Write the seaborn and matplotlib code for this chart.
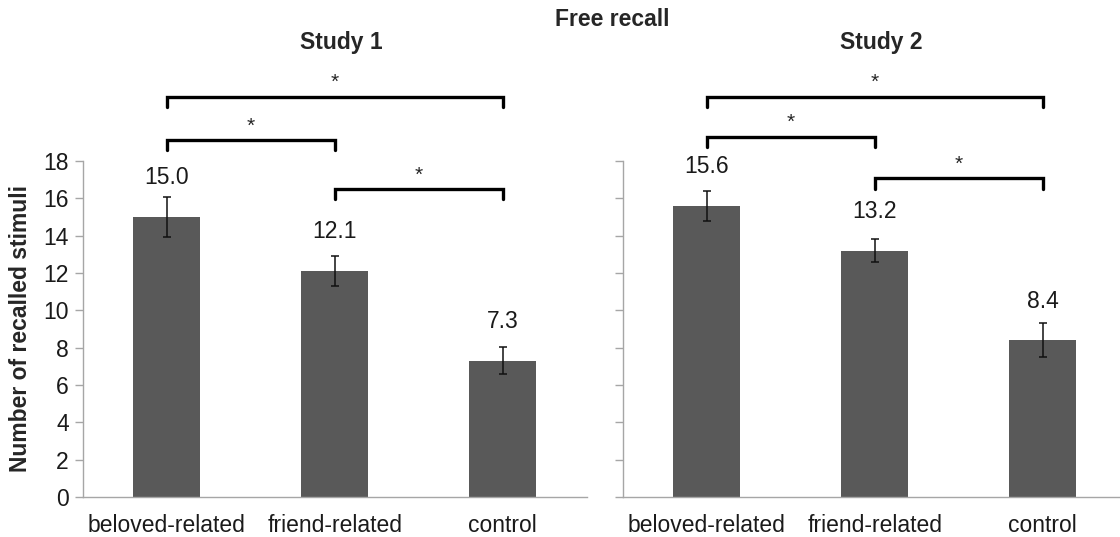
import numpy as np
import pandas as pd
import matplotlib
matplotlib.use("Agg")
import matplotlib.pyplot as plt
import seaborn as sns

#--------------------Data-----------------------
categories = ["beloved-related", "friend-related", "control"]
study1_means = [15.0, 12.1, 7.3]
study1_err = [1.05, 0.8, 0.72]
study2_means = [15.6, 13.2, 8.4]
study2_err = [0.8, 0.63, 0.9]
study_titles = ["Study 1", "Study 2"]
comparisons = [(0, 2), (0, 1), (1, 2)]
y_ticks = list(range(0, 20, 2))

#--------------------Style-----------------------
sns.set_style("white")
plt.rcParams["font.family"] = ["Liberation Sans", "DejaVu Sans"]
bar_color = "#595959"
spine_color = "#a6a6a6"
fs = 16.5

fig = plt.figure(figsize=(11.2, 5.37), dpi=100)
W, H = 1120, 537
ax1 = fig.add_axes([82.7 / W, 1 - 497 / H, 504 / W, 336 / H])
ax2 = fig.add_axes([622.7 / W, 1 - 497 / H, 504 / W, 336 / H])

# bracket heights (data units) for each panel
bracket_levels = [
    {(0, 2): 21.44, (0, 1): 19.12, (1, 2): 16.5},
    {(0, 2): 21.44, (0, 1): 19.3, (1, 2): 17.07},
]

for k, (ax, means, errs) in enumerate(zip([ax1, ax2], [study1_means, study2_means], [study1_err, study2_err])):
    df = pd.DataFrame({"cond": categories, "recall": means})
    sns.barplot(data=df, x="cond", y="recall", color=bar_color, width=0.4,
                errorbar=None, saturation=1, ax=ax, edgecolor="none")
    ax.errorbar(range(len(categories)), means, yerr=errs, fmt="none",
                ecolor="#111111", elinewidth=1.1, capsize=3, capthick=1.1)

    # value labels
    for i, v in enumerate(means):
        ax.text(i, v + 2.1, f"{v:.1f}", ha="center", va="center", fontsize=fs, color="#1a1a1a")

    ax.set_xlim(-0.5, 2.5)
    ax.set_ylim(0, 18)
    ax.set_yticks(y_ticks)
    ax.set_xlabel("")
    ax.set_ylabel("")

    for s in ["top", "right"]:
        ax.spines[s].set_visible(False)
    for s in ["left", "bottom"]:
        ax.spines[s].set_color(spine_color)
        ax.spines[s].set_linewidth(1)

    ax.set_xticks(range(len(categories)))
    ax.set_xticklabels(categories)
    ax.set_xticks([-0.5, 0.5, 1.5, 2.5], minor=True)
    ax.tick_params(axis="x", which="major", length=0, pad=12, labelsize=fs, labelcolor="#1a1a1a")
    ax.tick_params(axis="x", which="minor", length=7, width=1, color=spine_color, direction="out")
    ax.tick_params(axis="y", length=6, width=1, color=spine_color, direction="out",
                   labelsize=fs, labelcolor="#1a1a1a", pad=4, left=True)
    if k == 1:
        ax.set_yticklabels([])

    # significance brackets
    for (a, b) in comparisons:
        y = bracket_levels[k][(a, b)]
        ax.plot([a, a, b, b], [y - 0.55, y, y, y - 0.55], color="black", lw=2.4,
                clip_on=False, solid_joinstyle="miter")
        ax.text((a + b) / 2, y + 0.75, "*", ha="center", va="center", fontsize=15, clip_on=False)

ax1.set_ylabel("Number of recalled stimuli", fontsize=fs, fontweight="bold", labelpad=8)

fig.text(341 / W, 1 - 43 / H, study_titles[0], ha="center", va="center", fontsize=fs, fontweight="bold")
fig.text(881 / W, 1 - 43 / H, study_titles[1], ha="center", va="center", fontsize=fs, fontweight="bold")
fig.text(612 / W, 1 - 19 / H, "Free recall", ha="center", va="center", fontsize=fs, fontweight="bold")

fig.savefig("out.png", dpi=100)
